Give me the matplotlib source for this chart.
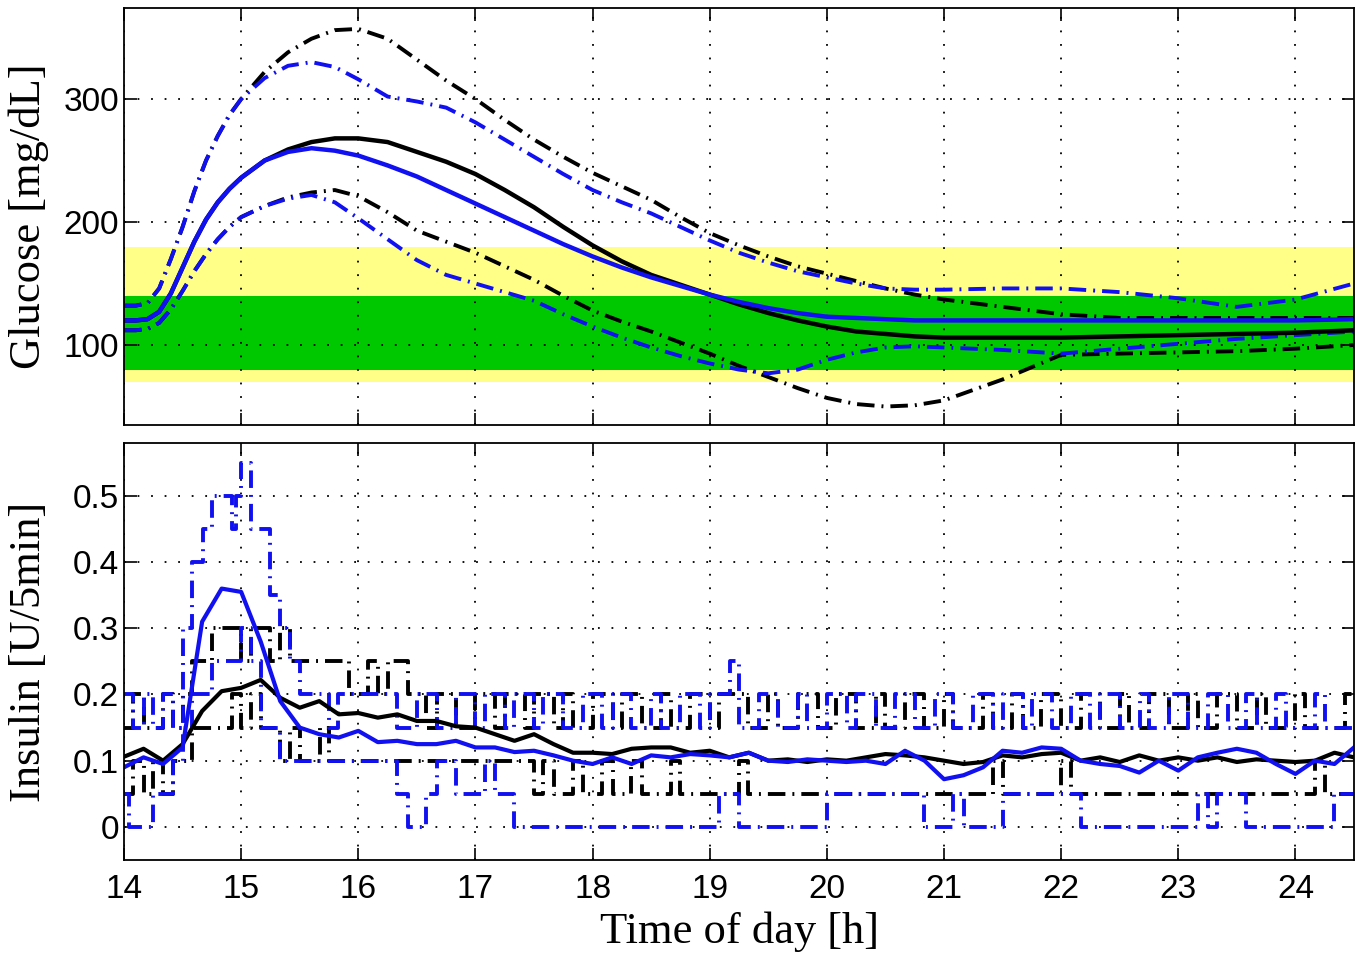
import matplotlib
matplotlib.use("Agg")
import matplotlib.pyplot as plt

# ---------------------------------------------------------------------------
# Glucose [mg/dL] (top panel)
# ---------------------------------------------------------------------------
g_time = [14.0, 14.1, 14.2, 14.3, 14.4, 14.5, 14.6, 14.7, 14.8, 14.9, 15.0,
          15.2, 15.4, 15.6, 15.8, 16.0, 16.25, 16.5, 16.75, 17.0, 17.25, 17.5,
          17.75, 18.0, 18.25, 18.5, 18.75, 19.0, 19.25, 19.5, 19.75, 20.0,
          20.25, 20.5, 20.75, 21.0, 21.5, 22.0, 22.5, 23.0, 23.5, 24.0, 24.5]

g_mean_black = [120, 120, 121, 127, 142, 163, 184, 202, 216, 227, 236,
                250, 259, 265, 268, 268, 265, 257, 249, 239, 226, 212,
                196, 181, 168, 157, 149, 141, 133, 126, 120, 115,
                111, 109, 107, 106, 106, 106, 107, 108, 109, 110, 112]
g_mean_blue = [120, 120, 121, 127, 142, 163, 184, 202, 216, 227, 236,
               250, 257, 260, 258, 254, 246, 237, 226, 215, 204, 193,
               182, 172, 163, 155, 148, 141, 135, 130, 126, 123,
               122, 121, 120, 120, 120, 120, 120, 120, 120, 120, 121]
g_upper_black = [132, 132, 134, 146, 170, 196, 225, 250, 270, 287, 300,
                 322, 338, 349, 356, 357, 349, 332, 315, 300, 283, 267,
                 253, 240, 229, 218, 204, 191, 181, 172, 164, 158,
                 152, 146, 141, 137, 131, 125, 122, 122, 122, 122, 122]
g_upper_blue = [132, 132, 134, 146, 170, 196, 225, 250, 270, 287, 300,
                317, 327, 330, 326, 316, 302, 298, 293, 281, 267, 253,
                239, 226, 216, 207, 196, 185, 175, 167, 160, 155,
                150, 146, 145, 145, 146, 146, 143, 138, 131, 137, 150]
g_lower_black = [112, 112, 113, 118, 129, 144, 160, 174, 186, 196, 204,
                 213, 220, 224, 226, 221, 208, 193, 184, 175, 164, 153,
                 140, 128, 119, 111, 102, 93, 83, 74, 65, 57,
                 52, 50, 51, 55, 72, 92, 93, 94, 95, 97, 100]
g_lower_blue = [112, 112, 113, 118, 129, 144, 160, 174, 186, 196, 204,
                213, 219, 222, 216, 203, 186, 169, 157, 150, 143, 136,
                125, 115, 106, 98, 91, 85, 80, 77, 80, 88,
                94, 98, 99, 98, 96, 93, 97, 101, 105, 108, 111]

band_outer = (70, 180)   # yellow
band_inner = (80, 140)   # green

# ---------------------------------------------------------------------------
# Insulin [U/5min] (bottom panel)
# ---------------------------------------------------------------------------
i_time = [14 + k / 6 for k in range(64)]

i_mean_black = [0.106, 0.118, 0.100, 0.125, 0.175, 0.205, 0.210, 0.222, 0.195, 0.180,
                0.190, 0.170, 0.172, 0.165, 0.170, 0.160, 0.160, 0.152, 0.150, 0.140,
                0.130, 0.140, 0.125, 0.112, 0.112, 0.110, 0.118, 0.120, 0.120, 0.112,
                0.115, 0.105, 0.112, 0.100, 0.102, 0.098, 0.102, 0.100, 0.105, 0.110,
                0.108, 0.105, 0.100, 0.095, 0.098, 0.108, 0.105, 0.110, 0.112, 0.100,
                0.105, 0.098, 0.108, 0.100, 0.105, 0.100, 0.105, 0.098, 0.102, 0.100,
                0.098, 0.100, 0.112, 0.105]
i_mean_blue = [0.090, 0.105, 0.095, 0.120, 0.310, 0.360, 0.355, 0.280, 0.190, 0.150,
               0.140, 0.135, 0.145, 0.128, 0.130, 0.125, 0.125, 0.130, 0.120, 0.120,
               0.113, 0.115, 0.108, 0.100, 0.095, 0.105, 0.095, 0.108, 0.105, 0.110,
               0.108, 0.105, 0.112, 0.100, 0.098, 0.102, 0.100, 0.098, 0.100, 0.095,
               0.115, 0.100, 0.072, 0.078, 0.090, 0.115, 0.112, 0.120, 0.118, 0.100,
               0.095, 0.092, 0.082, 0.100, 0.085, 0.105, 0.112, 0.118, 0.112, 0.095,
               0.080, 0.100, 0.095, 0.120]

# step envelopes: change times and levels
bmax_t = [14.00, 14.08, 14.17, 14.33, 14.42, 14.50, 14.58, 14.75, 15.00, 15.08,
          15.25, 15.33, 15.42, 15.92, 16.08, 16.17, 16.25, 16.42, 16.58, 16.67,
          16.83, 17.00, 17.17, 17.25, 17.42, 17.50, 17.67, 17.75, 17.83, 18.00,
          18.17, 18.25, 18.42, 18.58, 18.67, 18.83, 19.00, 19.08, 19.33, 19.50,
          19.58, 19.75, 19.92, 20.08, 20.25, 20.42, 20.50, 20.67, 20.83, 21.00,
          21.08, 21.33, 21.42, 21.58, 21.67, 21.83, 22.00, 22.17, 22.33, 22.50,
          22.58, 22.75, 22.92, 23.08, 23.17, 23.33, 23.50, 23.67, 23.75, 24.00,
          24.08, 24.42, 24.50]
bmax_v = [0.15, 0.20, 0.15, 0.20, 0.15, 0.20, 0.25, 0.30, 0.25, 0.30,
          0.25, 0.30, 0.25, 0.20, 0.25, 0.20, 0.25, 0.20, 0.15, 0.20,
          0.15, 0.20, 0.15, 0.20, 0.15, 0.20, 0.15, 0.20, 0.15, 0.20,
          0.15, 0.20, 0.15, 0.20, 0.15, 0.20, 0.15, 0.20, 0.15, 0.20,
          0.15, 0.20, 0.15, 0.20, 0.15, 0.20, 0.15, 0.20, 0.15, 0.20,
          0.15, 0.20, 0.15, 0.20, 0.15, 0.20, 0.15, 0.20, 0.15, 0.20,
          0.15, 0.20, 0.15, 0.20, 0.15, 0.20, 0.15, 0.20, 0.15, 0.20,
          0.15, 0.20, 0.20]

bmin_t = [14.00, 14.08, 14.17, 14.25, 14.33, 14.42, 14.58, 14.92, 15.00, 15.08,
          15.17, 15.33, 15.42, 15.50, 15.67, 15.75, 17.50, 17.58, 17.67, 17.83,
          17.92, 18.08, 18.17, 18.33, 18.42, 18.67, 18.75, 19.25, 19.33, 21.42,
          21.50, 22.00, 22.08, 24.17, 24.25, 24.50]
bmin_v = [0.05, 0.10, 0.05, 0.10, 0.05, 0.10, 0.15, 0.20, 0.15, 0.20,
          0.15, 0.10, 0.15, 0.10, 0.15, 0.10, 0.05, 0.10, 0.05, 0.10,
          0.05, 0.10, 0.05, 0.10, 0.05, 0.10, 0.05, 0.10, 0.05, 0.10,
          0.05, 0.10, 0.05, 0.10, 0.05, 0.05]

umax_t = [14.00, 14.08, 14.17, 14.25, 14.33, 14.42, 14.50, 14.58, 14.67, 14.75,
          14.92, 14.96, 15.00, 15.08, 15.25, 15.33, 15.42, 15.50, 15.75, 15.83,
          16.33, 16.50, 16.67, 16.83, 17.00, 17.08, 17.25, 17.33, 17.50, 17.58,
          17.75, 17.92, 18.08, 18.17, 18.33, 18.50, 18.58, 18.75, 18.92, 19.00,
          19.17, 19.25, 19.42, 19.58, 19.75, 19.83, 20.00, 20.17, 20.25, 20.42,
          20.58, 20.75, 20.92, 21.08, 21.25, 21.42, 21.50, 21.67, 21.75, 21.92,
          22.08, 22.25, 22.33, 22.50, 22.67, 22.75, 22.92, 23.08, 23.25, 23.42,
          23.58, 23.67, 23.83, 23.92, 24.17, 24.25, 24.50]
umax_v = [0.20, 0.15, 0.20, 0.15, 0.20, 0.15, 0.30, 0.40, 0.45, 0.50,
          0.45, 0.50, 0.55, 0.45, 0.35, 0.30, 0.25, 0.20, 0.15, 0.20,
          0.15, 0.20, 0.15, 0.20, 0.15, 0.20, 0.15, 0.20, 0.15, 0.20,
          0.15, 0.20, 0.15, 0.20, 0.15, 0.20, 0.15, 0.20, 0.15, 0.20,
          0.25, 0.15, 0.20, 0.15, 0.20, 0.15, 0.20, 0.15, 0.20, 0.15,
          0.20, 0.15, 0.20, 0.15, 0.20, 0.15, 0.20, 0.15, 0.20, 0.15,
          0.20, 0.15, 0.20, 0.15, 0.20, 0.15, 0.20, 0.15, 0.20, 0.15,
          0.20, 0.15, 0.20, 0.15, 0.20, 0.15, 0.15]

umin_t = [14.00, 14.04, 14.25, 14.42, 14.50, 14.58, 14.75, 15.00, 15.08, 15.17,
          15.33, 16.33, 16.42, 16.58, 16.67, 16.83, 17.08, 17.17, 17.33, 19.08,
          19.25, 20.00, 20.83, 21.08, 21.17, 21.50, 22.17, 23.17, 23.25, 23.33,
          23.58, 24.33, 24.50]
umin_v = [0.05, 0.00, 0.05, 0.10, 0.15, 0.20, 0.25, 0.30, 0.25, 0.15,
          0.10, 0.05, 0.00, 0.05, 0.10, 0.05, 0.10, 0.05, 0.00, 0.05,
          0.00, 0.05, 0.00, 0.05, 0.00, 0.05, 0.00, 0.05, 0.00, 0.05,
          0.00, 0.05, 0.05]

x_ticks = list(range(14, 25))

# ---------------------------------------------------------------------------
# Styling
# ---------------------------------------------------------------------------
BLUE   = "#1010f0"
BLACK  = "#000000"
YELLOW = "#ffff88"
GREEN  = "#00c800"
DASHDOT = (0, (4.5, 1.8, 0.5, 1.8))
TICK_FONT  = "Liberation Sans"
LABEL_FONT = "Liberation Serif"


def style_axes(ax):
    ax.grid(True, color="black", linestyle=(0, (1, 6.5)), linewidth=1.3)
    ax.tick_params(direction="in", length=9, width=1.2, top=True, right=True,
                   labelsize=24)
    for lab in ax.get_xticklabels() + ax.get_yticklabels():
        lab.set_fontfamily(TICK_FONT)
    for sp in ax.spines.values():
        sp.set_linewidth(1.3)
    ax.set_xlim(14, 24.5)
    ax.set_xticks(x_ticks)


fig = plt.figure(figsize=(13.6, 9.63), dpi=100)
ax1 = fig.add_axes([0.0912, 0.5587, 0.9044, 0.4330])
ax2 = fig.add_axes([0.0912, 0.1070, 0.9044, 0.4330])

# --- top: glucose -----------------------------------------------------------
ax1.axhspan(*band_outer, color=YELLOW, lw=0, zorder=0.5)
ax1.axhspan(*band_inner, color=GREEN, lw=0, zorder=0.6)
for series, color in [(g_upper_black, BLACK), (g_lower_black, BLACK),
                      (g_upper_blue, BLUE), (g_lower_blue, BLUE)]:
    ax1.plot(g_time, series, color=color, lw=2.8, linestyle=DASHDOT)
ax1.plot(g_time, g_mean_black, color=BLACK, lw=3.2)
ax1.plot(g_time, g_mean_blue, color=BLUE, lw=3.2)
ax1.set_ylim(35, 374)
ax1.set_yticks([100, 200, 300])
style_axes(ax1)
ax1.set_xticklabels([])
ax1.set_ylabel("Glucose [mg/dL]", fontsize=32, family=LABEL_FONT)
ax1.yaxis.set_label_coords(-0.061, 0.5)

# --- bottom: insulin --------------------------------------------------------
for t, v, color in [(bmax_t, bmax_v, BLACK), (bmin_t, bmin_v, BLACK),
                    (umax_t, umax_v, BLUE), (umin_t, umin_v, BLUE)]:
    ax2.plot(t, v, color=color, lw=2.8, linestyle=DASHDOT, drawstyle="steps-post")
ax2.plot(i_time, i_mean_black, color=BLACK, lw=3.0)
ax2.plot(i_time, i_mean_blue, color=BLUE, lw=3.0)
ax2.set_ylim(-0.05, 0.58)
ax2.set_yticks([0, 0.1, 0.2, 0.3, 0.4, 0.5])
ax2.set_yticklabels(["0", "0.1", "0.2", "0.3", "0.4", "0.5"])
style_axes(ax2)
ax2.tick_params(axis="x", pad=10)
ax2.set_ylabel("Insulin [U/5min]", fontsize=32, family=LABEL_FONT)
ax2.yaxis.set_label_coords(-0.061, 0.5)
ax2.set_xlabel("Time of day [h]", fontsize=32, family=LABEL_FONT, labelpad=5)

fig.savefig("out.png", dpi=100)
